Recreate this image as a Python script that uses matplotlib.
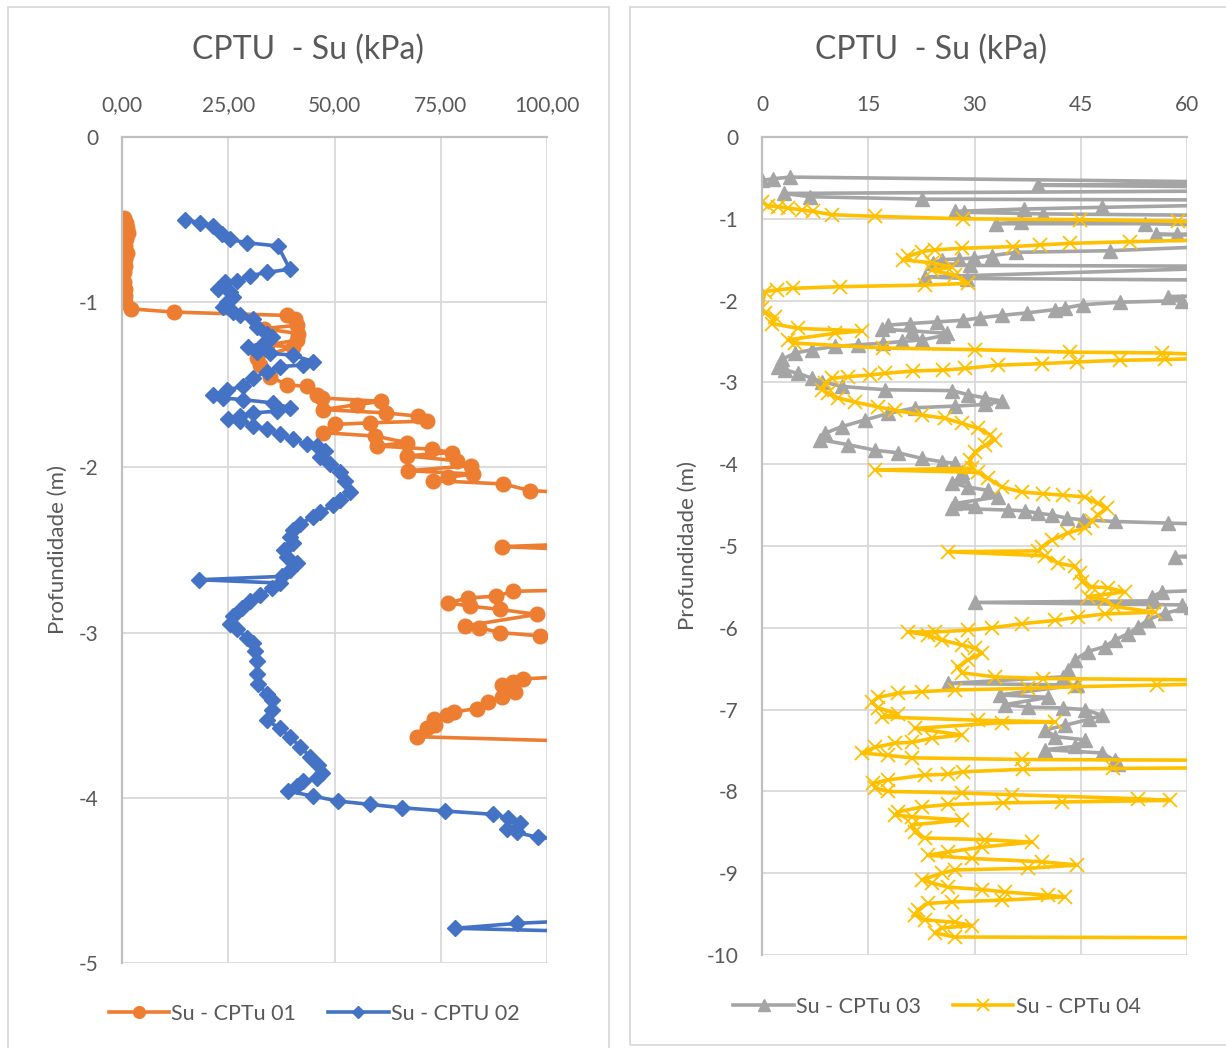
import matplotlib
matplotlib.use("Agg")
import matplotlib.pyplot as plt
from matplotlib.patches import Rectangle

plt.rcParams['font.family'] = ['Lato', 'DejaVu Sans']

# ---------------- data ----------------
# Su - CPTu 01 (kPa) and depth (m)
su01_x = [0.5, 1.0, 1.1, 1.3, 1.0, 0.8, 1.1, 0.7, 0.8, 0.5, 0.5, 0.7, 0.6, 0.8, 2.1, 12.2,
          38.8, 40.7, 41.1, 33.3, 41.5, 41.1, 34.0, 40.3, 31.7, 32.5, 34.8, 38.8, 43.5, 45.8, 47.0,
          61.0, 55.3, 47.4, 62.0, 69.7, 71.7, 58.4, 50.0, 47.4, 59.5, 67.0, 60.0, 73.0, 77.6, 67.0,
          78.8, 82.0, 67.3, 82.6, 76.7, 73.2, 89.6, 96.0, 110, 110, 89.4, 110, 110, 92.0, 88.0,
          81.4, 76.8, 81.9, 89.0, 97.6, 80.7, 84.0, 89.0, 98.4, 110, 110, 94.4, 92.0, 89.4, 92.5,
          89.4, 86.0, 83.5, 78.0, 76.4, 73.3, 73.6, 71.7, 69.3, 110]
su01_z = [-0.49, -0.52, -0.55, -0.58, -0.62, -0.66, -0.70, -0.74, -0.78, -0.82, -0.88, -0.92, -0.96, -1.00, -1.04, -1.06,
          -1.08, -1.10, -1.14, -1.16, -1.19, -1.23, -1.26, -1.27, -1.34, -1.38, -1.45, -1.50, -1.51, -1.56, -1.58,
          -1.60, -1.62, -1.65, -1.67, -1.69, -1.72, -1.73, -1.74, -1.79, -1.81, -1.85, -1.87, -1.89, -1.91, -1.93,
          -1.96, -1.99, -2.02, -2.04, -2.06, -2.08, -2.10, -2.14, -2.16, -2.46, -2.48, -2.50, -2.74, -2.75, -2.78,
          -2.79, -2.82, -2.84, -2.86, -2.89, -2.96, -2.97, -3.00, -3.02, -3.04, -3.26, -3.28, -3.30, -3.32, -3.36,
          -3.39, -3.42, -3.46, -3.48, -3.50, -3.52, -3.56, -3.58, -3.63, -3.66]

# Su - CPTU 02
su02_x = [14.8, 18.4, 21.4, 23.5, 25.4, 29.3, 36.7, 39.5, 34.0, 30.1, 27.0, 24.2, 22.6, 25.4, 26.1, 24.7,
          23.8, 26.1, 27.8, 30.8, 31.7, 34.0, 35.2, 33.2, 29.6, 31.7, 34.8, 40.2, 45.0, 42.6, 37.2, 34.1,
          30.8, 28.5, 24.7, 21.4, 23.8, 28.5, 35.6, 39.5, 36.4, 30.9, 27.8, 25.0, 27.8, 30.9, 34.1, 37.2,
          40.2, 43.5, 45.8, 47.8, 46.6, 49.0, 51.3, 52.5, 53.6, 51.3, 49.7, 46.6, 45.0, 41.9, 40.3, 39.5,
          40.3, 38.0, 38.8, 41.1, 39.5, 37.6, 18.1, 37.2, 35.3, 32.5, 30.1, 28.2, 26.1, 25.4, 27.0, 29.4,
          30.8, 31.3, 31.7, 31.7, 32.0, 34.0, 35.2, 35.2, 34.0, 37.2, 39.5, 41.9, 44.2, 46.1, 47.0, 45.9,
          42.7, 41.1, 39.1, 45.0, 50.9, 58.4, 65.8, 76.0, 87.3, 90.8, 93.6, 90.6, 92.9, 97.9, 110, 110,
          92.9, 78.4, 110]
su02_z = [-0.50, -0.52, -0.54, -0.59, -0.62, -0.64, -0.66, -0.80, -0.82, -0.84, -0.87, -0.88, -0.92, -0.94, -0.97, -1.00,
          -1.03, -1.06, -1.08, -1.10, -1.15, -1.19, -1.21, -1.25, -1.27, -1.30, -1.31, -1.32, -1.36, -1.38, -1.39, -1.42,
          -1.46, -1.51, -1.53, -1.56, -1.58, -1.59, -1.61, -1.64, -1.66, -1.67, -1.69, -1.71, -1.72, -1.75, -1.77, -1.80,
          -1.83, -1.86, -1.87, -1.90, -1.94, -1.98, -2.03, -2.08, -2.15, -2.20, -2.23, -2.27, -2.30, -2.34, -2.38, -2.42,
          -2.46, -2.50, -2.54, -2.58, -2.62, -2.66, -2.68, -2.70, -2.73, -2.77, -2.81, -2.85, -2.90, -2.95, -2.98, -3.03,
          -3.06, -3.11, -3.17, -3.25, -3.31, -3.37, -3.41, -3.47, -3.53, -3.58, -3.63, -3.69, -3.75, -3.80, -3.85, -3.88,
          -3.90, -3.93, -3.96, -3.99, -4.02, -4.04, -4.06, -4.08, -4.10, -4.12, -4.15, -4.19, -4.21, -4.24, -4.26, -4.74,
          -4.76, -4.79, -4.81]

# Su - CPTu 03
su03_x = [0.0, 1.6, 4.0, 66, 66, 39.0, 66, 66, 3.1, 6.8, 22.6, 66, 66, 48.0, 37.0, 27.2, 28.5, 39.7, 66, 66,
          36.6, 33.0, 54.0, 66, 66, 58.6, 55.6, 66, 66, 49.1, 35.9, 32.5, 29.9, 27.8, 25.4, 24.2, 29.3, 66, 66,
          23.0, 29.0, 66, 66, 57.3, 59.3, 50.5, 45.3, 42.8, 41.4, 37.4, 33.9, 30.8, 28.4, 24.7, 20.9, 17.8,
          16.9, 21.2, 26.1, 25.5, 22.6, 19.8, 17.1, 13.6, 10.3, 7.1, 4.7, 2.8, 2.3, 3.3, 5.1, 7.1, 8.5, 11.3,
          17.4, 26.8, 29.1, 31.5, 33.9, 31.5, 27.2, 21.6, 17.8, 14.5, 11.3, 8.9, 8.2, 12.1, 16.0, 19.2, 22.6,
          25.4, 27.2, 28.2, 28.2, 26.8, 29.1, 31.9, 33.3, 27.2, 30.0, 26.8, 34.7, 37.1, 39.0, 40.9, 43.1, 45.3,
          49.8, 57.3, 66, 66, 58.3, 66, 66, 56.5, 55.0, 55.2, 30.1, 59.3, 60.5, 56.9, 54.5, 53.1, 51.7, 49.8,
          48.4, 46.0, 44.2, 43.2, 42.5, 26.3, 44.5, 33.6, 40.4, 34.3, 37.6, 42.5, 45.6, 48.0, 46.1, 42.8, 40.0,
          41.4, 45.6, 44.2, 40.0, 48.0, 49.8, 50.3]
su03_z = [-0.53, -0.51, -0.49, -0.55, -0.57, -0.59, -0.61, -0.66, -0.69, -0.73, -0.76, -0.77, -0.83, -0.86, -0.88, -0.91, -0.92, -0.94, -0.96, -1.03,
          -1.04, -1.06, -1.06, -1.08, -1.17, -1.19, -1.19, -1.21, -1.33, -1.39, -1.41, -1.45, -1.48, -1.49, -1.50, -1.54, -1.57, -1.58, -1.60,
          -1.71, -1.73, -1.75, -1.94, -1.95, -2.00, -2.02, -2.05, -2.09, -2.11, -2.15, -2.18, -2.21, -2.24, -2.26, -2.28, -2.30,
          -2.35, -2.37, -2.40, -2.43, -2.48, -2.50, -2.52, -2.54, -2.56, -2.60, -2.64, -2.72, -2.81, -2.85, -2.89, -2.95, -2.99, -3.05,
          -3.09, -3.10, -3.15, -3.19, -3.23, -3.27, -3.29, -3.31, -3.38, -3.46, -3.54, -3.62, -3.70, -3.76, -3.83, -3.86, -3.93,
          -3.97, -3.99, -4.10, -4.15, -4.23, -4.28, -4.32, -4.40, -4.48, -4.51, -4.54, -4.56, -4.57, -4.60, -4.62, -4.66, -4.68,
          -4.70, -4.72, -4.74, -5.10, -5.13, -5.15, -5.53, -5.56, -5.62, -5.67, -5.69, -5.72, -5.75, -5.82, -5.90, -5.99, -6.07, -6.15,
          -6.23, -6.29, -6.39, -6.52, -6.60, -6.68, -6.70, -6.82, -6.85, -6.94, -6.97, -6.98, -7.00, -7.07, -7.12, -7.19, -7.25,
          -7.33, -7.37, -7.45, -7.49, -7.53, -7.62, -7.66]

# Su - CPTu 04
su04_x = [0.0, 0.8, 2.2, 3.7, 5.6, 7.2, 9.9, 16.0, 28.4, 44.9, 58.7, 66, 66, 52.0, 43.5, 39.2, 35.4, 28.2, 24.4,
          22.6, 20.6, 19.9, 24.0, 26.8, 24.0, 27.2, 29.1, 23.0, 11.0, 4.4, 2.1, 0.4,
          0.0, 0.4, 1.8, 1.4, 5.1, 14.1, 10.3, 3.7, 4.7, 17.1, 30.1, 43.5, 56.5, 66, 66, 56.9, 50.5, 44.5,
          39.5, 33.3, 28.7, 25.6, 21.3, 17.4, 15.2, 12.1, 9.9, 8.9, 8.5, 9.3, 10.7, 13.1, 16.4, 18.8, 22.6,
          25.9, 28.2, 30.5, 32.2, 32.9, 31.5, 30.1, 29.4, 29.6, 16.0, 30.5, 31.9, 33.9, 36.7, 39.7, 42.5, 45.6,
          47.4, 48.7, 47.4, 46.6, 45.6, 43.2, 40.9, 39.5, 39.0, 26.3, 40.0, 41.8, 44.2, 44.9, 45.2, 46.6, 48.8,
          51.2, 46.0, 48.4, 49.8, 55.5, 48.4, 44.6, 41.4, 36.7, 32.5, 29.1, 24.4, 20.6, 23.4, 25.4, 28.2, 30.1,
          31.1, 29.1, 27.7, 28.2, 32.9, 39.7, 66, 66, 55.8, 44.2, 37.6, 27.2, 22.6, 19.2, 16.4, 15.5, 16.4, 19.2,
          16.9, 30.5, 41.4, 33.9, 21.6, 28.2, 24.0, 21.2, 18.8, 16.0, 14.1, 17.8, 21.2, 36.7, 66, 66, 49.6, 36.9,
          28.4, 26.3, 23.0, 17.8, 15.7, 16.0, 17.8, 28.2, 35.3, 53.1, 57.6, 42.4, 34.0, 26.3, 22.6, 19.2, 18.8,
          21.2, 28.2, 21.2, 21.6, 23.0, 31.5, 38.1, 31.1, 26.3, 23.4, 29.6, 39.5, 44.5, 37.6, 27.2, 25.4, 22.6,
          24.0, 26.3, 31.1, 34.3, 40.4, 42.8, 33.9, 26.8, 23.4, 22.0, 21.6, 23.0, 27.2, 29.6, 25.4, 24.4, 27.2, 66]
su04_z = [-0.79, -0.84, -0.85, -0.87, -0.89, -0.91, -0.95, -0.97, -1.00, -1.01, -1.03, -1.05, -1.25, -1.28, -1.30, -1.32, -1.34, -1.36, -1.38,
          -1.40, -1.46, -1.50, -1.54, -1.59, -1.63, -1.69, -1.79, -1.81, -1.83, -1.85, -1.87, -1.89,
          -2.09, -2.15, -2.20, -2.28, -2.34, -2.37, -2.40, -2.48, -2.52, -2.58, -2.60, -2.63, -2.64, -2.67, -2.70, -2.72, -2.73, -2.75,
          -2.77, -2.79, -2.83, -2.85, -2.86, -2.89, -2.91, -2.93, -2.95, -3.01, -3.09, -3.13, -3.19, -3.24, -3.30, -3.34, -3.40,
          -3.44, -3.50, -3.56, -3.64, -3.70, -3.77, -3.85, -3.95, -4.05, -4.07, -4.10, -4.17, -4.28, -4.34, -4.36, -4.38, -4.40,
          -4.48, -4.54, -4.62, -4.70, -4.78, -4.84, -4.93, -5.01, -5.06, -5.07, -5.12, -5.21, -5.25, -5.33, -5.44, -5.50, -5.51,
          -5.56, -5.62, -5.66, -5.74, -5.81, -5.83, -5.87, -5.91, -5.95, -6.00, -6.03, -6.05, -6.05, -6.09, -6.15, -6.21, -6.25,
          -6.31, -6.39, -6.48, -6.55, -6.60, -6.62, -6.64, -6.68, -6.70, -6.72, -6.74, -6.76, -6.78, -6.80, -6.85, -6.91, -6.98, -7.05,
          -7.09, -7.13, -7.15, -7.16, -7.23, -7.31, -7.35, -7.40, -7.41, -7.46, -7.53, -7.56, -7.59, -7.61, -7.62, -7.71, -7.72, -7.73,
          -7.76, -7.79, -7.80, -7.86, -7.90, -7.96, -8.00, -8.02, -8.04, -8.09, -8.11, -8.13, -8.14, -8.16, -8.19, -8.25, -8.29,
          -8.31, -8.35, -8.41, -8.50, -8.57, -8.59, -8.62, -8.68, -8.74, -8.78, -8.82, -8.86, -8.90, -8.94, -8.96, -9.00, -9.08,
          -9.12, -9.17, -9.20, -9.23, -9.27, -9.29, -9.33, -9.35, -9.37, -9.45, -9.51, -9.57, -9.60, -9.64, -9.67, -9.73, -9.78, -9.79]

title_text = "CPTU  - Su (kPa)"
ylabel_text = "Profundidade (m)"
left_xticks = [0, 25, 50, 75, 100]
left_yticks = [0, -1, -2, -3, -4, -5]
right_xticks = [0, 15, 30, 45, 60]
right_yticks = [0, -1, -2, -3, -4, -5, -6, -7, -8, -9, -10]

# ---------------- style ----------------
TXT = "#595959"
GRID = "#d9d9d9"
AXIS = "#bfbfbf"
C_OR = "#ED7D31"
C_BL = "#4472C4"
C_GR = "#A5A5A5"
C_YE = "#FFC000"

W, H = 1226, 1048
fig = plt.figure(figsize=(W / 100, H / 100), dpi=100)

# chart area borders
fig.patches.append(Rectangle((7.5 / W, -0.05), (609 - 7.5) / W, 1.05 - 6.5 / H,
                             transform=fig.transFigure, fill=False, ec=GRID, lw=1.3))
fig.patches.append(Rectangle((630 / W, 1 - 1045 / H), 0.6, (1045 - 6.5) / H,
                             transform=fig.transFigure, fill=False, ec=GRID, lw=1.3))


def setup(ax, xlim, ylim, xticks, yticks, xfmt, ylabel_x):
    ax.set_xlim(*xlim)
    ax.set_ylim(*ylim)
    ax.xaxis.tick_top()
    ax.set_xticks(xticks)
    ax.set_xticklabels([xfmt(v) for v in xticks])
    ax.set_yticks(yticks)
    ax.set_yticklabels([str(v) for v in yticks])
    ax.tick_params(length=0, labelsize=15, colors=TXT, pad=17)
    ax.tick_params(axis='x', pad=16)
    ax.grid(True, color=GRID, lw=1.3)
    ax.set_axisbelow(True)
    for s in ['right', 'bottom']:
        ax.spines[s].set_visible(False)
    for s in ['top', 'left']:
        ax.spines[s].set_color(AXIS)
        ax.spines[s].set_linewidth(1.6)
    ax.set_ylabel(ylabel_text, fontsize=16, color=TXT)
    ax.yaxis.set_label_coords(ylabel_x, 0.5)


axL = fig.add_axes([122 / W, 1 - 963 / H, 425 / W, 826 / H])
setup(axL, (0, 100), (-5, 0), left_xticks, left_yticks,
      lambda v: f"{v:.2f}".replace('.', ','), -0.128)
axL.plot(su01_x, su01_z, color=C_OR, lw=2.6, marker='o', ms=10.5, mec=C_OR, mfc=C_OR,
         label="Su - CPTu 01")
axL.plot(su02_x, su02_z, color=C_BL, lw=2.6, marker='D', ms=7.8, mec=C_BL, mfc=C_BL,
         label="Su - CPTU 02")

axR = fig.add_axes([762 / W, 1 - 955 / H, 425 / W, 818 / H])
setup(axR, (0, 60), (-10, 0), right_xticks, right_yticks,
      lambda v: str(v), -0.152)
axR.plot(su03_x, su03_z, color=C_GR, lw=2.6, marker='^', ms=10, mec=C_GR, mfc=C_GR,
         label="Su - CPTu 03")
axR.plot(su04_x, su04_z, color=C_YE, lw=2.6, marker='x', ms=10, mew=1.3, mec=C_YE,
         label="Su - CPTu 04")

fig.text(308 / W, 1 - 50 / H, title_text, ha='center', va='center', fontsize=23, color=TXT)
fig.text(931 / W, 1 - 50 / H, title_text, ha='center', va='center', fontsize=23, color=TXT)

legkw = dict(loc='center', ncol=2, frameon=False, fontsize=15.5, handlelength=2.8,
             handletextpad=0.1, columnspacing=1.5, labelcolor=TXT, markerscale=0.8)
fig.legend(handles=axL.get_lines(), bbox_to_anchor=(314 / W, 1 - 1014 / H), **legkw)
fig.legend(handles=axR.get_lines(), bbox_to_anchor=(937 / W, 1 - 1007 / H), **legkw)

fig.savefig("out.png", dpi=100)
